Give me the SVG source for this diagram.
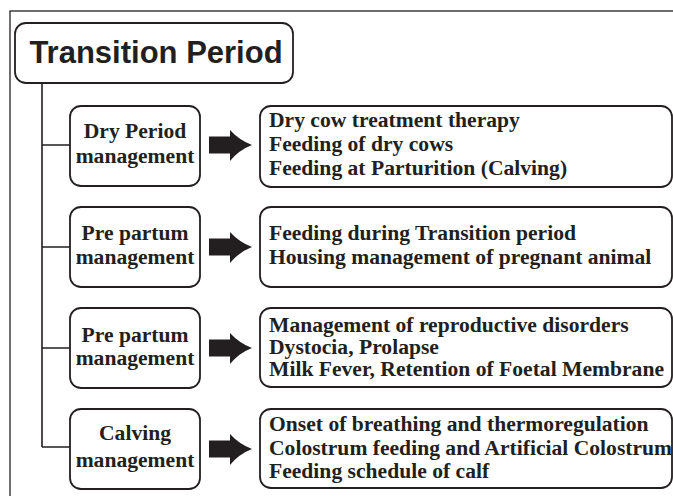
<svg xmlns="http://www.w3.org/2000/svg" width="673" height="496" viewBox="0 0 673 496">
<defs>
<style>
.box{fill:#fff;stroke:#231f20;stroke-width:1.8}
.ln{fill:none;stroke:#231f20;stroke-width:1.6}
.t{font-family:"Liberation Serif","Times New Roman",serif;font-weight:bold;font-size:21.6px;fill:#231f20}
.c{text-anchor:middle}
.title{font-family:"Liberation Sans",Arial,sans-serif;font-weight:bold;font-size:31px;fill:#231f20;text-anchor:middle}
.arr{fill:#231f20}
</style>
<path id="ar" d="M0,-8.5 L21,-8.5 L21,-15 Q30,-5 43,0 Q30,5 21,16 L21,8.5 L0,8.5 Z"/>
</defs>
<rect x="0" y="0" width="673" height="496" fill="#fff"/>
<rect id="frame" x="10" y="11" width="700" height="520" fill="none" stroke="#231f20" stroke-width="1.3"/>
<g id="connectors">
<path class="ln" d="M42,83 V447 M42,145 H70 M42,247 H70 M42,348 H70 M42,447 H70"/>
<use href="#ar" class="arr" x="209" y="145"/>
<use href="#ar" class="arr" x="209" y="247"/>
<use href="#ar" class="arr" x="209" y="348"/>
<use href="#ar" class="arr" x="209" y="449"/>
</g>
<g id="title">
<rect class="box" x="15" y="23" width="278" height="60" rx="11"/>
<text class="title" x="156" y="63">Transition Period</text>
</g>
<g id="n1">
<rect class="box" x="70" y="106" width="130" height="80" rx="11"/>
<text class="t c" x="135" y="138">Dry Period</text>
<text class="t c" x="135" y="163">management</text>
</g>
<g id="n2">
<rect class="box" x="70" y="207" width="130" height="80" rx="11"/>
<text class="t c" x="135" y="240">Pre partum</text>
<text class="t c" x="135" y="264">management</text>
</g>
<g id="n3">
<rect class="box" x="70" y="308" width="130" height="80" rx="11"/>
<text class="t c" x="135" y="342">Pre partum</text>
<text class="t c" x="135" y="365">management</text>
</g>
<g id="n4">
<rect class="box" x="70" y="409" width="130" height="80" rx="11"/>
<text class="t c" x="135" y="440">Calving</text>
<text class="t c" x="135" y="467">management</text>
</g>
<g id="r1">
<rect class="box" x="260" y="106" width="412" height="81" rx="11"/>
<text class="t" x="269" y="127">Dry cow treatment therapy</text>
<text class="t" x="269" y="151">Feeding of dry cows</text>
<text class="t" x="269" y="175">Feeding at Parturition (Calving)</text>
</g>
<g id="r2">
<rect class="box" x="260" y="207" width="412" height="80" rx="11"/>
<text class="t" x="269" y="240">Feeding during Transition period</text>
<text class="t" x="269" y="264">Housing management of pregnant animal</text>
</g>
<g id="r3">
<rect class="box" x="260" y="308" width="412" height="79" rx="11"/>
<text class="t" x="269" y="332">Management of reproductive disorders</text>
<text class="t" x="269" y="354">Dystocia, Prolapse</text>
<text class="t" x="269" y="376">Milk Fever, Retention of Foetal Membrane</text>
</g>
<g id="r4">
<rect class="box" x="260" y="409" width="412" height="79" rx="11"/>
<text class="t" x="269" y="431">Onset of breathing and thermoregulation</text>
<text class="t" x="269" y="455">Colostrum feeding and Artificial Colostrum</text>
<text class="t" x="269" y="478">Feeding schedule of calf</text>
</g>
</svg>
